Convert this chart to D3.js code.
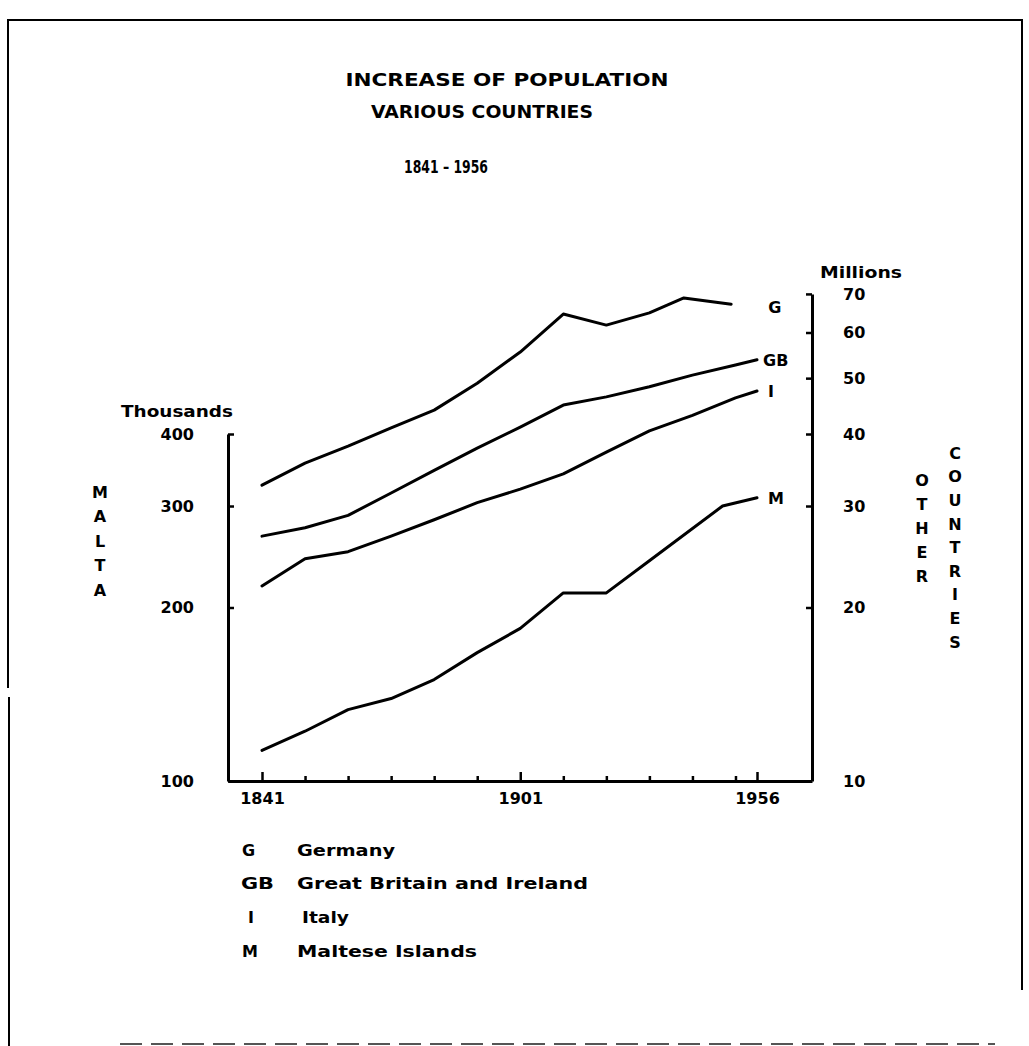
<!DOCTYPE html>
<html>
<head>
<meta charset="utf-8">
<script src="https://cdn.jsdelivr.net/npm/d3@7"></script>
<style>
  html, body { margin: 0; padding: 0; background: #fff; }
  svg { display: block; }
  text { font-family: "DejaVu Sans", "Liberation Sans", sans-serif; font-weight: bold; fill: #000; }
</style>
</head>
<body>
<svg id="chart" width="1029" height="1046"></svg>
<script>
// Census years and populations.
// Other countries are in millions, the Maltese Islands in thousands.
const germanyYears = [1841, 1851, 1861, 1871, 1881, 1891, 1901, 1911, 1921, 1931, 1939, 1950];
const germany      = [32.6, 35.6, 38.1, 41.0, 44.0, 49.0, 55.5, 64.6, 61.8, 64.9, 68.9, 67.2];

const britainYears = [1841, 1851, 1861, 1871, 1881, 1891, 1901, 1911, 1921, 1931, 1941, 1951, 1956];
const britain      = [26.6, 27.5, 28.9, 31.6, 34.6, 37.8, 41.1, 44.9, 46.4, 48.3, 50.6, 52.7, 53.8];

const italyYears   = [1841, 1851, 1861, 1871, 1881, 1891, 1901, 1911, 1921, 1931, 1941, 1951, 1956];
const italy        = [21.8, 24.3, 25.0, 26.6, 28.4, 30.4, 32.1, 34.1, 37.2, 40.5, 43.1, 46.2, 47.5];

const maltaYears   = [1841, 1851, 1861, 1871, 1881, 1891, 1901, 1911, 1921, 1931, 1948, 1956];
const malta        = [113, 122, 133, 139, 150, 167, 184, 212, 212, 241, 300, 310];

// Axis ticks and labels
const xTicks      = [1841, 1851, 1861, 1871, 1881, 1891, 1901, 1911, 1921, 1931, 1941, 1951, 1956];
const xLabelled   = [1841, 1901, 1956];
const maltaTicks  = [100, 200, 300, 400];
const otherTicks  = [10, 20, 30, 40, 50, 60, 70];

const seriesCodes = ["G", "GB", "I", "M"];
const seriesNames = ["Germany", "Great Britain and Ireland", "Italy", "Maltese Islands"];

const svg = d3.select("#chart");

// ---- frame round the sheet ----
const frame = svg.append("g").attr("stroke", "#000").attr("stroke-width", 2).attr("fill", "none");
frame.append("path").attr("d", "M8,688 V20 H1022 V990");
frame.append("path").attr("d", "M9,697 V1046");
svg.append("line")
  .attr("x1", 120).attr("x2", 995).attr("y1", 1044).attr("y2", 1044)
  .attr("stroke", "#555").attr("stroke-width", 2).attr("stroke-dasharray", "22,9");

// ---- scales ----
const plotLeft = 228, plotRight = 812, plotBottom = 781;
const x = d3.scaleLinear().domain([1841, 1956]).range([262, 757]);
const perDoubling = 173.5;
// Both log scales share the same ratio: 100 thousand sits level with 10 million.
const yMalta = d3.scaleLog().domain([100, 400]).range([plotBottom, plotBottom - 2 * perDoubling]);
const yOther = d3.scaleLog().domain([10, 70]).range([plotBottom, plotBottom - perDoubling * Math.log2(7)]);

// ---- axes ----
function styleAxis(g) {
  g.select(".domain").attr("stroke", "#000").attr("stroke-width", 3);
  g.selectAll(".tick line").attr("stroke", "#000").attr("stroke-width", 2.5);
  g.selectAll(".tick text").attr("font-size", 16).attr("font-family", "DejaVu Sans, sans-serif").attr("font-weight", "bold");
}

// left axis (Malta, thousands)
const leftAxis = svg.append("g")
  .attr("transform", `translate(${plotLeft},0)`)
  .call(d3.axisLeft(yMalta).tickValues(maltaTicks).tickSizeInner(-6).tickSizeOuter(0)
    .tickPadding(34).tickFormat(d3.format("d")));
styleAxis(leftAxis);

// right axis (other countries, millions)
const rightAxis = svg.append("g")
  .attr("transform", `translate(${plotRight},0)`)
  .call(d3.axisRight(yOther).tickValues(otherTicks).tickSizeInner(-6).tickSizeOuter(0)
    .tickPadding(31).tickFormat(d3.format("d")));
styleAxis(rightAxis);

// bottom axis (years)
const xAxisScale = d3.scaleLinear()
  .domain([x.invert(plotLeft), x.invert(plotRight)])
  .range([plotLeft, plotRight]);
const bottomAxis = svg.append("g")
  .attr("transform", `translate(0,${plotBottom})`)
  .call(d3.axisBottom(xAxisScale).tickValues(xTicks).tickSizeOuter(0).tickSizeInner(-5)
    .tickPadding(12).tickFormat(d => xLabelled.includes(d) ? String(d) : ""));
styleAxis(bottomAxis);
bottomAxis.selectAll(".tick line").attr("y2", d => xLabelled.includes(d) ? -9 : -5);

// ---- population lines ----
const series = [
  { code: "G",  years: germanyYears, values: germany, y: yOther },
  { code: "GB", years: britainYears, values: britain, y: yOther },
  { code: "I",  years: italyYears,   values: italy,   y: yOther },
  { code: "M",  years: maltaYears,   values: malta,   y: yMalta }
];

const lineGroup = svg.append("g").attr("fill", "none").attr("stroke", "#000")
  .attr("stroke-width", 3).attr("stroke-linejoin", "round").attr("stroke-linecap", "round");

series.forEach(s => {
  const pts = s.years.map((yr, i) => [yr, s.values[i]]);
  const line = d3.line().x(d => x(d[0])).y(d => s.y(d[1]));
  lineGroup.append("path").attr("d", line(pts));
});

// code letters at the end of each line
const endLabelOffsets = { G: [37, 3], GB: [6, 0], I: [11, 0], M: [11, 0] };
series.forEach(s => {
  const last = s.years.length - 1;
  const off = endLabelOffsets[s.code];
  svg.append("text")
    .attr("x", x(s.years[last]) + off[0])
    .attr("y", s.y(s.values[last]) + off[1])
    .attr("dy", "0.36em")
    .attr("font-size", 16)
    .text(s.code);
});

// ---- titles ----
function label(txt, cx, cy, size, width, anchor) {
  const t = svg.append("text")
    .attr("x", cx).attr("y", cy).attr("dy", "0.36em")
    .attr("text-anchor", anchor || "middle")
    .attr("font-size", size)
    .text(txt);
  if (width) t.attr("textLength", width).attr("lengthAdjust", "spacingAndGlyphs");
  return t;
}

label("INCREASE OF POPULATION", 507, 80, 17, 323);
label("VARIOUS COUNTRIES", 482, 112, 17, 222);
label("1841 \u2013 1956", 446, 167, 17, 84);

label("Thousands", 177, 411, 16, 112);
label("Millions", 861, 272, 16, 82);

// stacked vertical words
function stacked(word, cx, top, step) {
  word.split("").forEach((ch, i) => {
    label(ch, cx, top + i * step, 16);
  });
}
stacked("MALTA", 100, 492, 24.5);
stacked("OTHER", 922, 480, 24);
stacked("COUNTRIES", 955, 453, 23.6);

// ---- key ----
const keyTop = 850, keyStep = 33.7;
const keyWidths = [98, 291, 47, 180];
seriesCodes.forEach((code, i) => {
  const yy = keyTop + i * keyStep;
  label(code, code === "GB" ? 241 : (code === "I" ? 248 : 242), yy, 16, code === "GB" ? 33 : null, "start");
  label(seriesNames[i], code === "I" ? 302 : 297, yy, 16, keyWidths[i], "start");
});
</script>
</body>
</html>
